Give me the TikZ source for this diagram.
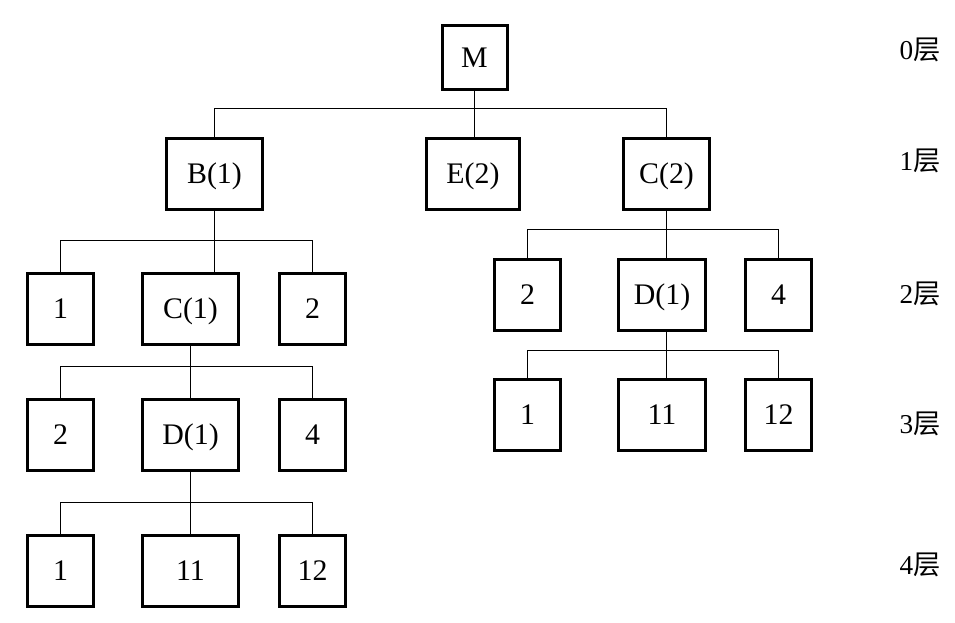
\documentclass[tikz,border=0pt]{standalone}
\usepackage{fontspec}
\setmainfont{Liberation Serif}
\newfontfamily\cjk{Noto Sans CJK SC}
\begin{document}
\begin{tikzpicture}[x=0.02cm,y=-0.02cm,
  box/.style={draw=black,line width=3*0.02cm,inner sep=0pt,
    minimum height=71*0.02cm,text height=11.2pt,text depth=0pt,
    font=\fontsize{17}{20}\selectfont},
  narrow/.style={box,minimum width=66*0.02cm},
  wide/.style={box,minimum width=96*0.02cm},
  conn/.style={draw=black,line width=1.3*0.02cm},
  lvl/.style={inner sep=0pt,font=\fontsize{15.5}{18}\selectfont}]
\useasboundingbox (0,0) rectangle (955,622);
% level 0
\node[box,minimum width=65*0.02cm,minimum height=64*0.02cm] (M) at (474.5,57.5) {M};
% level 1
\node[wide] (B) at (214.5,173.5) {B(1)};
\node[box,minimum width=93*0.02cm] (E) at (473,173.5) {E(2)};
\node[box,minimum width=86*0.02cm] (C2) at (666.5,173.5) {C(2)};
% left level 2
\node[narrow] (L21) at (60.5,309) {1};
\node[wide] (L2C) at (190.5,309) {C(1)};
\node[narrow] (L22) at (312.5,309) {2};
% left level 3
\node[narrow] (L32) at (60.5,435) {2};
\node[wide] (L3D) at (190.5,435) {D(1)};
\node[narrow] (L34) at (312.5,435) {4};
% left level 4
\node[narrow] (L41) at (60.5,571) {1};
\node[wide] (L411) at (190.5,571) {11};
\node[narrow] (L412) at (312.5,571) {12};
% right level 2
\node[narrow] (R22) at (527.5,295) {2};
\node[box,minimum width=87*0.02cm] (R2D) at (662,295) {D(1)};
\node[narrow] (R24) at (778.5,295) {4};
% right level 3
\node[narrow] (R31) at (527.5,415) {1};
\node[box,minimum width=87*0.02cm] (R311) at (662,415) {11};
\node[narrow] (R312) at (778.5,415) {12};
% level labels
\node[lvl] (l0) at (920,50) {0\cjk 层};
\node[lvl] (l1) at (920,161) {1\cjk 层};
\node[lvl] (l2) at (920,294) {2\cjk 层};
\node[lvl] (l3) at (920,424) {3\cjk 层};
\node[lvl] (l4) at (920,565) {4\cjk 层};
% connectors
\coordinate (y1) at (0,108.5);
\draw[conn] (M.south) -- (M.south |- E.north);
\draw[conn] (B.north) |- (C2.north |- y1) -- (C2.north);
\coordinate (y2) at (0,240.5);
\draw[conn] (B.south) -- (B.south |- L2C.north);
\draw[conn] (L21.north) |- (L22.north |- y2) -- (L22.north);
\coordinate (y3) at (0,366.5);
\draw[conn] (L2C.south) -- (L2C.south |- L3D.north);
\draw[conn] (L32.north) |- (L34.north |- y3) -- (L34.north);
\coordinate (y4) at (0,502.5);
\draw[conn] (L3D.south) -- (L3D.south |- L411.north);
\draw[conn] (L41.north) |- (L412.north |- y4) -- (L412.north);
\coordinate (y5) at (0,229.5);
\draw[conn] (C2.south) -- (C2.south |- R2D.north);
\draw[conn] (R22.north) |- (R24.north |- y5) -- (R24.north);
\coordinate (y6) at (0,350.5);
\draw[conn] (R2D.south -| C2.south) -- (C2.south |- R311.north);
\draw[conn] (R31.north) |- (R312.north |- y6) -- (R312.north);
\end{tikzpicture}
\end{document}
